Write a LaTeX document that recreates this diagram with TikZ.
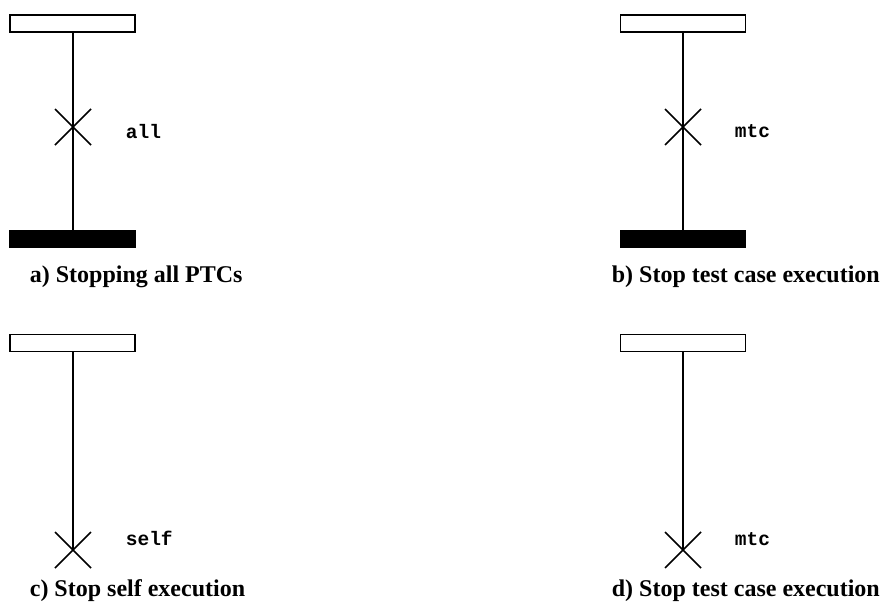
\documentclass[tikz,border=0pt]{standalone}
\usepackage{fontspec}
\setmainfont{Liberation Serif}
\setmonofont{Liberation Mono}
\begin{document}
\begin{tikzpicture}[x=1pt,y=-1pt,line width=1.7pt,
  headbox/.style={draw,fill=white,minimum width=125pt,minimum height=17pt,inner sep=0pt,outer sep=0pt},
  endbar/.style={draw,fill=black,minimum width=125pt,minimum height=17pt,inner sep=0pt,outer sep=0pt},
  lbl/.style={anchor=base west,font=\ttfamily\bfseries\fontsize{19.5}{19.5}\selectfont,inner sep=0pt},
  captxt/.style={anchor=base west,font=\bfseries\fontsize{24}{24}\selectfont,inner sep=0pt},
  stopcross/.style={line width=1.7pt}]
\useasboundingbox (0,0) rectangle (882,602);
% panel a
\node[headbox] (ha) at (72.5,23.5) {};
\coordinate (xa) at (73,127);
\node[endbar] (ba) at (72.5,239) {};
\draw (ha.south -| xa) -- (ba.north -| xa);
\draw[stopcross] ([shift={(-18,-18)}]xa) -- ([shift={(18,18)}]xa) ([shift={(18,-18)}]xa) -- ([shift={(-18,18)}]xa);
\node[lbl] (la) at (125,138) {all};
\node[captxt] (ca) at (29,282) {a) Stopping all PTCs};
% panel b
\node[headbox] (hb) at (683,23.5) {};
\coordinate (xb) at (683,127);
\node[endbar] (bb) at (683,239) {};
\draw (hb.south) -- (bb.north);
\draw[stopcross] ([shift={(-18,-18)}]xb) -- ([shift={(18,18)}]xb) ([shift={(18,-18)}]xb) -- ([shift={(-18,18)}]xb);
\node[lbl] (lb) at (734,137) {mtc};
\node[captxt] (cb) at (611,282) {b) Stop test case execution};
% panel c
\node[headbox] (hc) at (72.5,343) {};
\coordinate (xc) at (73,550);
\draw (hc.south -| xc) -- (xc);
\draw[stopcross] ([shift={(-18,-18)}]xc) -- ([shift={(18,18)}]xc) ([shift={(18,-18)}]xc) -- ([shift={(-18,18)}]xc);
\node[lbl] (lc) at (125,545) {self};
\node[captxt] (cc) at (29,596) {c) Stop self execution};
% panel d
\node[headbox] (hd) at (683,343) {};
\coordinate (xd) at (683,550);
\draw (hd.south) -- (xd);
\draw[stopcross] ([shift={(-18,-18)}]xd) -- ([shift={(18,18)}]xd) ([shift={(18,-18)}]xd) -- ([shift={(-18,18)}]xd);
\node[lbl] (ld) at (734,545) {mtc};
\node[captxt] (cd) at (611,596) {d) Stop test case execution};
\end{tikzpicture}
\end{document}
